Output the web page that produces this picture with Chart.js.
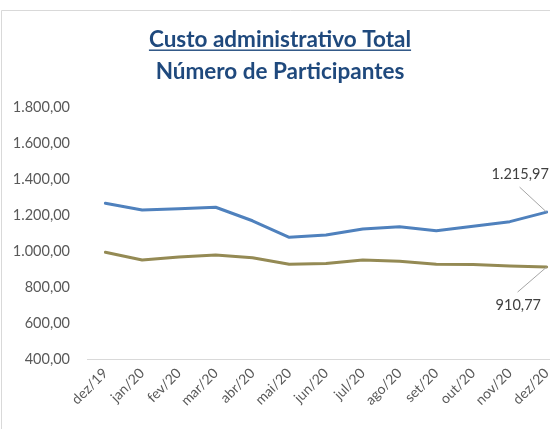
<!DOCTYPE html>
<html>
<head>
<meta charset="utf-8">
<script src="https://cdn.jsdelivr.net/npm/chart.js@4/dist/chart.umd.min.js"></script>
<style>
html,body{margin:0;padding:0;overflow:hidden;background:#fff;width:550px;height:429px;}
#wrap{position:absolute;left:0;top:0;width:580px;height:429px;}
</style>
</head>
<body>
<div id="wrap"><canvas id="c"></canvas></div>
<script>
const categories = ['dez/19','jan/20','fev/20','mar/20','abr/20','mai/20','jun/20','jul/20','ago/20','set/20','out/20','nov/20','dez/20'];
const custoAdministrativo = [1265,1228,1235,1243,1168,1076,1089,1122,1135,1113,1138,1163,1215.97];
const numeroParticipantes = [993,950,967,978,963,926,931,950,943,926,925,917,910.77];
const titleLines = ['Custo administrativo Total','Número de Participantes'];
const yMin = 400, yMax = 1800, yStep = 200;

function fmtBR(v){
  const neg = v < 0; v = Math.abs(v);
  let s = v.toFixed(2);
  let [i,d] = s.split('.');
  i = i.replace(/\B(?=(\d{3})+(?!\d))/g,'.');
  return (neg?'-':'') + i + ',' + d;
}

const FONT = 'Lato, "Open Sans", sans-serif';

const framePlugin = {
  id:'frame',
  beforeDraw(chart){
    const ctx = chart.ctx;
    ctx.save();
    ctx.fillStyle='#fff';
    ctx.fillRect(0,0,chart.width,chart.height);
    ctx.strokeStyle='#d9d9d9';
    ctx.lineWidth=1;
    ctx.beginPath();
    ctx.moveTo(1.5,429); ctx.lineTo(1.5,10.5); ctx.lineTo(chart.width,10.5);
    ctx.stroke();
    ctx.fillStyle='#1f497d';
    ctx.font='bold 22.5px '+FONT;
    ctx.textAlign='center';
    ctx.textBaseline='alphabetic';
    const cx=280;
    ctx.fillText(titleLines[0],cx,47);
    const w=ctx.measureText(titleLines[0]).width;
    ctx.fillRect(cx-w/2,49.5,w,1.4);
    ctx.fillText(titleLines[1],cx,79);
    ctx.restore();
  }
};

const labelPlugin = {
  id:'lastLabels',
  afterDatasetsDraw(chart){
    const ctx=chart.ctx;
    const specs=[
      {ds:0, tx:-55, ty:-38, lx:-27, ly:-25},
      {ds:1, tx:-51, ty:38, lx:-29, ly:25}
    ];
    ctx.save();
    specs.forEach(s=>{
      const meta=chart.getDatasetMeta(s.ds);
      const pt=meta.data[meta.data.length-1];
      const val=chart.data.datasets[s.ds].data[meta.data.length-1];
      ctx.strokeStyle='#a6a6a6';
      ctx.lineWidth=1;
      ctx.beginPath();
      ctx.moveTo(pt.x+s.lx,pt.y+s.ly);
      ctx.lineTo(pt.x,pt.y);
      ctx.stroke();
      ctx.fillStyle='#404040';
      ctx.font='14.5px '+FONT;
      ctx.textAlign='left';
      ctx.textBaseline='middle';
      ctx.fillText(fmtBR(val),pt.x+s.tx,pt.y+s.ty);
    });
    ctx.restore();
  }
};

new Chart(document.getElementById('c'),{
  type:'line',
  data:{
    labels:categories,
    datasets:[
      {label:titleLines[0],data:custoAdministrativo,borderColor:'#4f81bd',backgroundColor:'#4f81bd',borderWidth:3,pointRadius:0,tension:0,borderCapStyle:'round',borderJoinStyle:'round'},
      {label:titleLines[1],data:numeroParticipantes,borderColor:'#948a54',backgroundColor:'#948a54',borderWidth:3,pointRadius:0,tension:0,borderCapStyle:'round',borderJoinStyle:'round'}
    ]
  },
  options:{
    responsive:true,
    maintainAspectRatio:false,
    animation:false,
    layout:{padding:{top:107,left:0,right:15,bottom:0}},
    plugins:{legend:{display:false},title:{display:false},tooltip:{enabled:false}},
    scales:{
      x:{
        offset:true,
        grid:{display:false,drawTicks:false},
        border:{display:true,color:'#d9d9d9',width:1},
        ticks:{color:'#595959',font:{family:FONT,size:14},maxRotation:45,minRotation:45,autoSkip:false,padding:6},
        afterFit(s){s.height=70;}
      },
      y:{
        min:yMin,max:yMax,
        grid:{display:false,drawTicks:false},
        border:{display:false},
        ticks:{stepSize:yStep,color:'#595959',font:{family:FONT,size:14.5},padding:17,callback:v=>fmtBR(v)},
        afterFit(s){s.width=87;}
      }
    }
  },
  plugins:[framePlugin,labelPlugin]
});
</script>
</body>
</html>
